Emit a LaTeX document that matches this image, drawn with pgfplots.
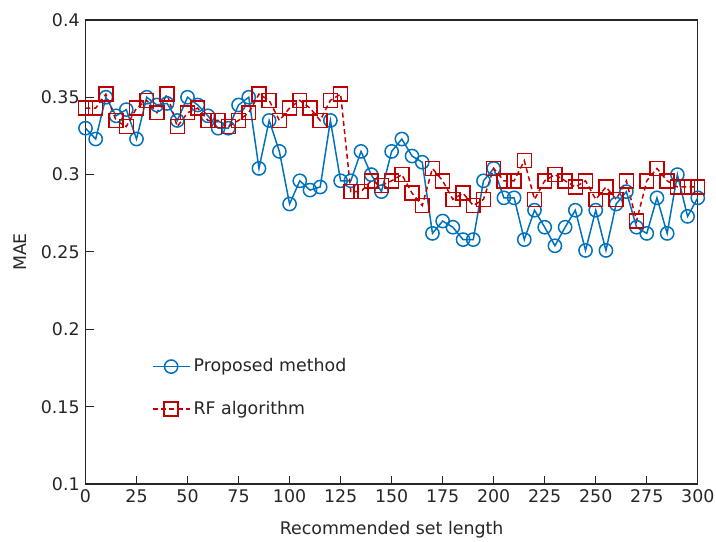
\documentclass[border=0pt]{standalone}
\usepackage{fontspec}
\setmainfont{DejaVu Sans}
\usepackage{pgfplots}
\pgfplotsset{compat=1.18}
\definecolor{propblue}{RGB}{0,114,189}
\definecolor{rfred}{RGB}{192,0,0}
\definecolor{axgray}{RGB}{38,38,38}
\begin{document}
\begin{tikzpicture}
\begin{axis}[
  name=ax,
  scale only axis,
  width=369.6pt, height=280.2pt,
  xmin=0, xmax=300, ymin=0.1, ymax=0.4,
  xtick={0,25,...,300},
  ytick={0.1,0.15,0.2,0.25,0.3,0.35,0.4},
  yticklabels={0.1,0.15,0.2,0.25,0.3,0.35,0.4},
  tick align=inside,
  xtick pos=left, ytick pos=left,
  axis line style={axgray, line width=0.8pt},
  tick style={axgray, line width=0.6pt},
  major tick length=5pt,
  ticklabel style={font=\fontsize{10.5}{12}\selectfont, text=axgray},
  /pgf/number format/assume math mode=true,
  xlabel={Recommended set length},
  ylabel={MAE},
  label style={font=\fontsize{10.5}{12}\selectfont, text=axgray},
  xlabel style={at={(axis description cs:0.5,0)}, anchor=center, yshift=-27.6pt},
  ylabel style={at={(axis description cs:0,0.5)}, anchor=center, rotate=0, yshift=39.6pt},
  legend style={at={(0.1,0.285)}, anchor=north west, draw=none, fill=none,
    font=\fontsize{10.5}{12}\selectfont, text=axgray, row sep=12pt},
  legend cell align=left,
  legend image code/.code={
    \draw[#1] (0cm,0cm) -- (0.39cm,0cm) -- (0.78cm,0cm);
    \draw[#1, only marks] plot coordinates {(0.39cm,0cm)};
  },
]
\addplot[propblue, line width=0.9pt, mark=o, mark size=4pt,
  mark options={solid, line width=0.9pt}] table {
x y
0 0.330
5 0.323
10 0.350
15 0.338
20 0.342
25 0.323
30 0.350
35 0.345
40 0.346
45 0.335
50 0.350
55 0.345
60 0.338
65 0.330
70 0.330
75 0.345
80 0.350
85 0.304
90 0.335
95 0.315
100 0.281
105 0.296
110 0.290
115 0.292
120 0.335
125 0.296
130 0.296
135 0.315
140 0.300
145 0.289
150 0.315
155 0.323
160 0.312
165 0.308
170 0.262
175 0.270
180 0.266
185 0.258
190 0.258
195 0.296
200 0.304
205 0.285
210 0.285
215 0.258
220 0.277
225 0.266
230 0.254
235 0.266
240 0.277
245 0.251
250 0.277
255 0.251
260 0.281
265 0.289
270 0.266
275 0.262
280 0.285
285 0.262
290 0.300
295 0.273
300 0.285
};
\addlegendentry{Proposed method}
\addplot[rfred, line width=0.9pt, densely dashed, mark=square, mark size=4.2pt,
  mark options={solid, line width=0.9pt}] table {
x y
0 0.343
5 0.343
10 0.352
15 0.335
20 0.331
25 0.343
30 0.348
35 0.340
40 0.352
45 0.331
50 0.340
55 0.343
60 0.335
65 0.335
70 0.331
75 0.335
80 0.340
85 0.352
90 0.348
95 0.335
100 0.343
105 0.348
110 0.343
115 0.335
120 0.348
125 0.352
130 0.289
135 0.289
140 0.296
145 0.293
150 0.296
155 0.300
160 0.288
165 0.280
170 0.304
175 0.296
180 0.284
185 0.288
190 0.280
195 0.284
200 0.304
205 0.296
210 0.296
215 0.309
220 0.284
225 0.296
230 0.300
235 0.296
240 0.292
245 0.296
250 0.284
255 0.292
260 0.284
265 0.296
270 0.270
275 0.296
280 0.304
285 0.296
290 0.292
295 0.292
300 0.292
};
\addlegendentry{RF algorithm}
\end{axis}
\pgfresetboundingbox
\path[use as bounding box] ([shift={(-51.6pt,-34.8pt)}]ax.south west)
  rectangle ([shift={(11pt,12pt)}]ax.north east);
\end{tikzpicture}
\end{document}
